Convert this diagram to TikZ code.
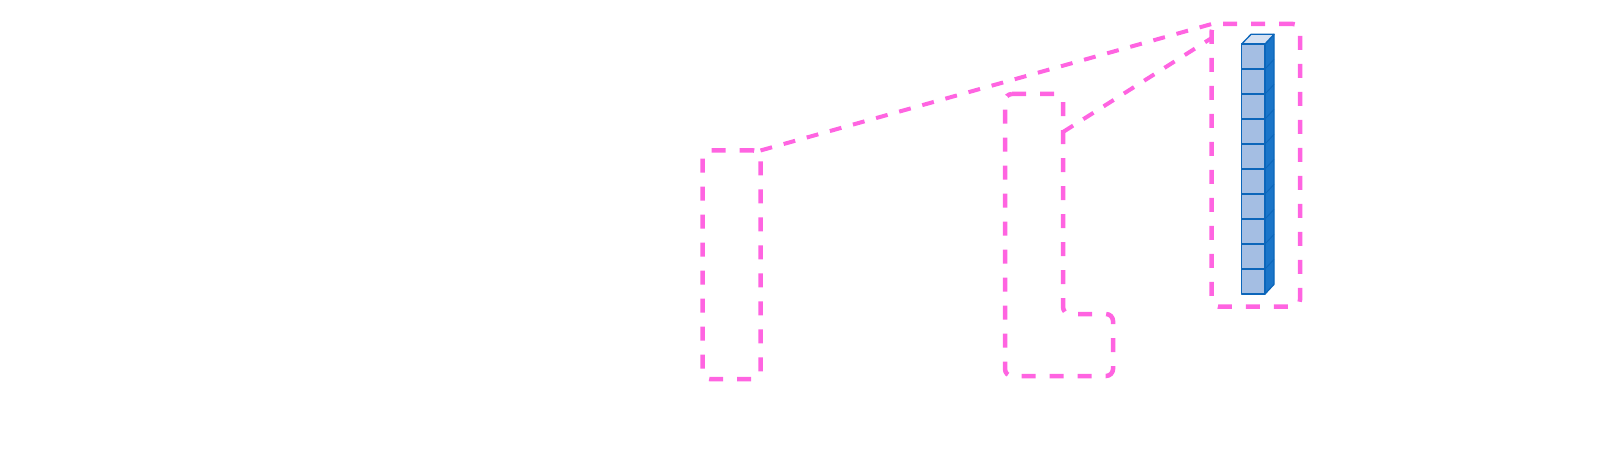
\documentclass[tikz,border=0pt]{standalone}
\definecolor{hl}{RGB}{255,100,225}
\definecolor{cubeedge}{RGB}{12,102,186}
\definecolor{cubefront}{RGB}{164,190,227}
\definecolor{cubeside}{RGB}{26,117,201}
\definecolor{cubetop}{RGB}{213,225,242}
\tikzset{
  hlbox/.style={draw=hl, line width=4.5pt, dash pattern=on 14pt off 14pt, rounded corners=7pt, inner sep=0pt, outer sep=0pt},
  hlline/.style={draw=hl, line width=4pt, dash pattern=on 12pt off 12pt},
  cubeline/.style={draw=cubeedge, line width=1.3pt, line join=round}
}
\begin{document}
\begin{tikzpicture}[x=1pt,y=-1pt]
\useasboundingbox (0,0) rectangle (1600,470);
% left box
\node[hlbox, minimum width=58pt, minimum height=228.5pt] (leftbox) at (731.5,264.75) {};
% middle L-shaped region
\draw[hlbox] (1005,94) -- (1063,94) -- (1063,314) -- (1113,314) -- (1113,376) -- (1005,376) -- cycle;
\coordinate (midtap) at (1063,132);
% right box
\node[hlbox, minimum width=88.3pt, minimum height=282.7pt] (rightbox) at (1255.85,165.35) {};
\coordinate (righttap) at (1211.7,38);
% connectors
\draw[hlline] (leftbox.north east) -- (rightbox.north west);
\draw[hlline] (midtap) -- (righttap);
% cube stack
\filldraw[cubeline, fill=cubeside] (1265,44) -- (1274,34.3) -- (1274,284.3) -- (1265,294) -- cycle;
\filldraw[cubeline, fill=cubetop] (1241.7,44) -- (1251,34.3) -- (1274,34.3) -- (1265,44) -- cycle;
\foreach \i in {0,...,9}{
  \filldraw[cubeline, fill=cubefront] (1241.7,44+25*\i) rectangle (1265,69+25*\i);
}
\foreach \i in {1,...,9}{
  \draw[cubeline, line width=0.8pt] (1265,44+25*\i) -- (1274,34.3+25*\i);
}
\end{tikzpicture}
\end{document}
